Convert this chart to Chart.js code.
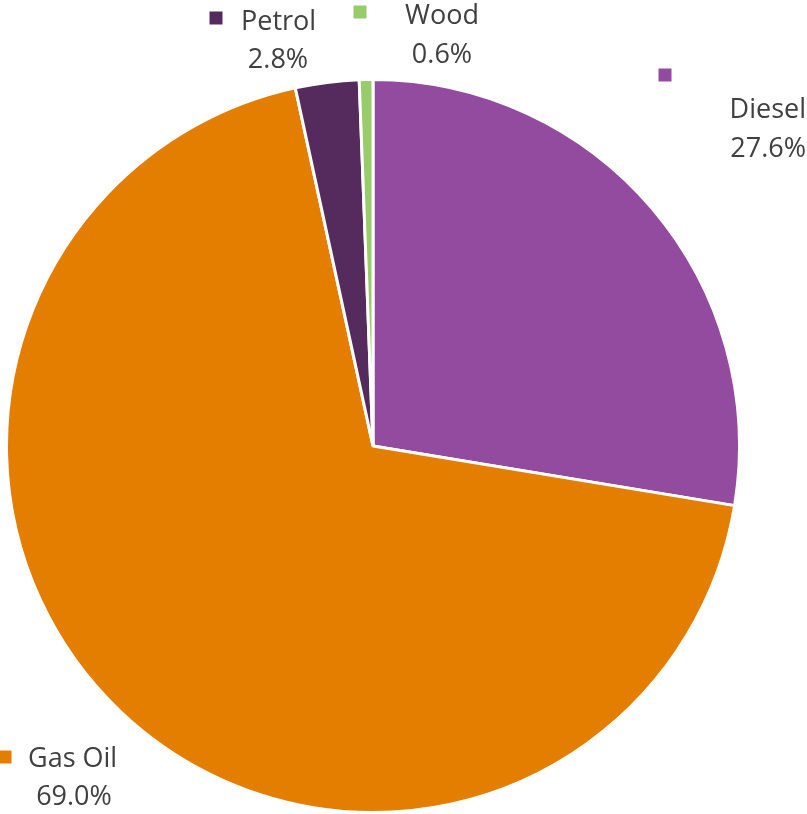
<!DOCTYPE html>
<html>
<head>
<meta charset="utf-8">
<script src="https://cdn.jsdelivr.net/npm/chart.js@4/dist/chart.umd.min.js"></script>
<style>
html,body{margin:0;padding:0;background:#fff;}
#wrap{width:807px;height:814px;position:relative;}
</style>
</head>
<body>
<div id="wrap"><canvas id="c" width="807" height="814"></canvas></div>
<script>
const categories = ["Diesel", "Gas Oil", "Petrol", "Wood"];
const shares = [27.6, 69.0, 2.8, 0.6];
const percentLabels = ["27.6%", "69.0%", "2.8%", "0.6%"];
const colors = ["#934B9F", "#E37E00", "#552B5E", "#98CB69"];

// label layout, offsets from the pie centre (px)
const labelLayout = [
  {key:[292,-371], name:[433,-328,'right'], pct:[433,-289,'right']},
  {key:[-368,311], name:[-345,321,'left'], pct:[-299,359,'center']},
  {key:[-157,-428], name:[-132,-416,'left'], pct:[-95,-378,'center']},
  {key:[-13,-434], name:[32,-422,'left'], pct:[69,-383,'center']}
];

const labelPlugin = {
  id: 'outLabels',
  afterDatasetsDraw(chart) {
    const ctx = chart.ctx;
    const meta = chart.getDatasetMeta(0);
    ctx.save();
    ctx.font = '27px "Open Sans", sans-serif';
    ctx.textBaseline = 'alphabetic';
    meta.data.forEach((arc, i) => {
      const cx = arc.x, cy = arc.y;
      const L = labelLayout[i];
      ctx.fillStyle = colors[i];
      ctx.fillRect(cx + L.key[0] - 6.5, cy + L.key[1] - 6.5, 13, 13);
      ctx.fillStyle = '#404040';
      ctx.textAlign = L.name[2];
      ctx.fillText(categories[i], cx + L.name[0], cy + L.name[1]);
      ctx.textAlign = L.pct[2];
      ctx.fillText(percentLabels[i], cx + L.pct[0], cy + L.pct[1]);
    });
    ctx.restore();
  }
};

new Chart(document.getElementById('c'), {
  type: 'pie',
  data: {
    labels: categories,
    datasets: [{
      data: shares,
      backgroundColor: colors,
      borderColor: '#ffffff',
      borderWidth: 3
    }]
  },
  options: {
    responsive: false,
    animation: false,
    layout: {padding: {left: 5, right: 66, top: 78, bottom: 0}},
    plugins: {legend: {display: false}, tooltip: {enabled: false}}
  },
  plugins: [labelPlugin]
});
</script>
</body>
</html>
